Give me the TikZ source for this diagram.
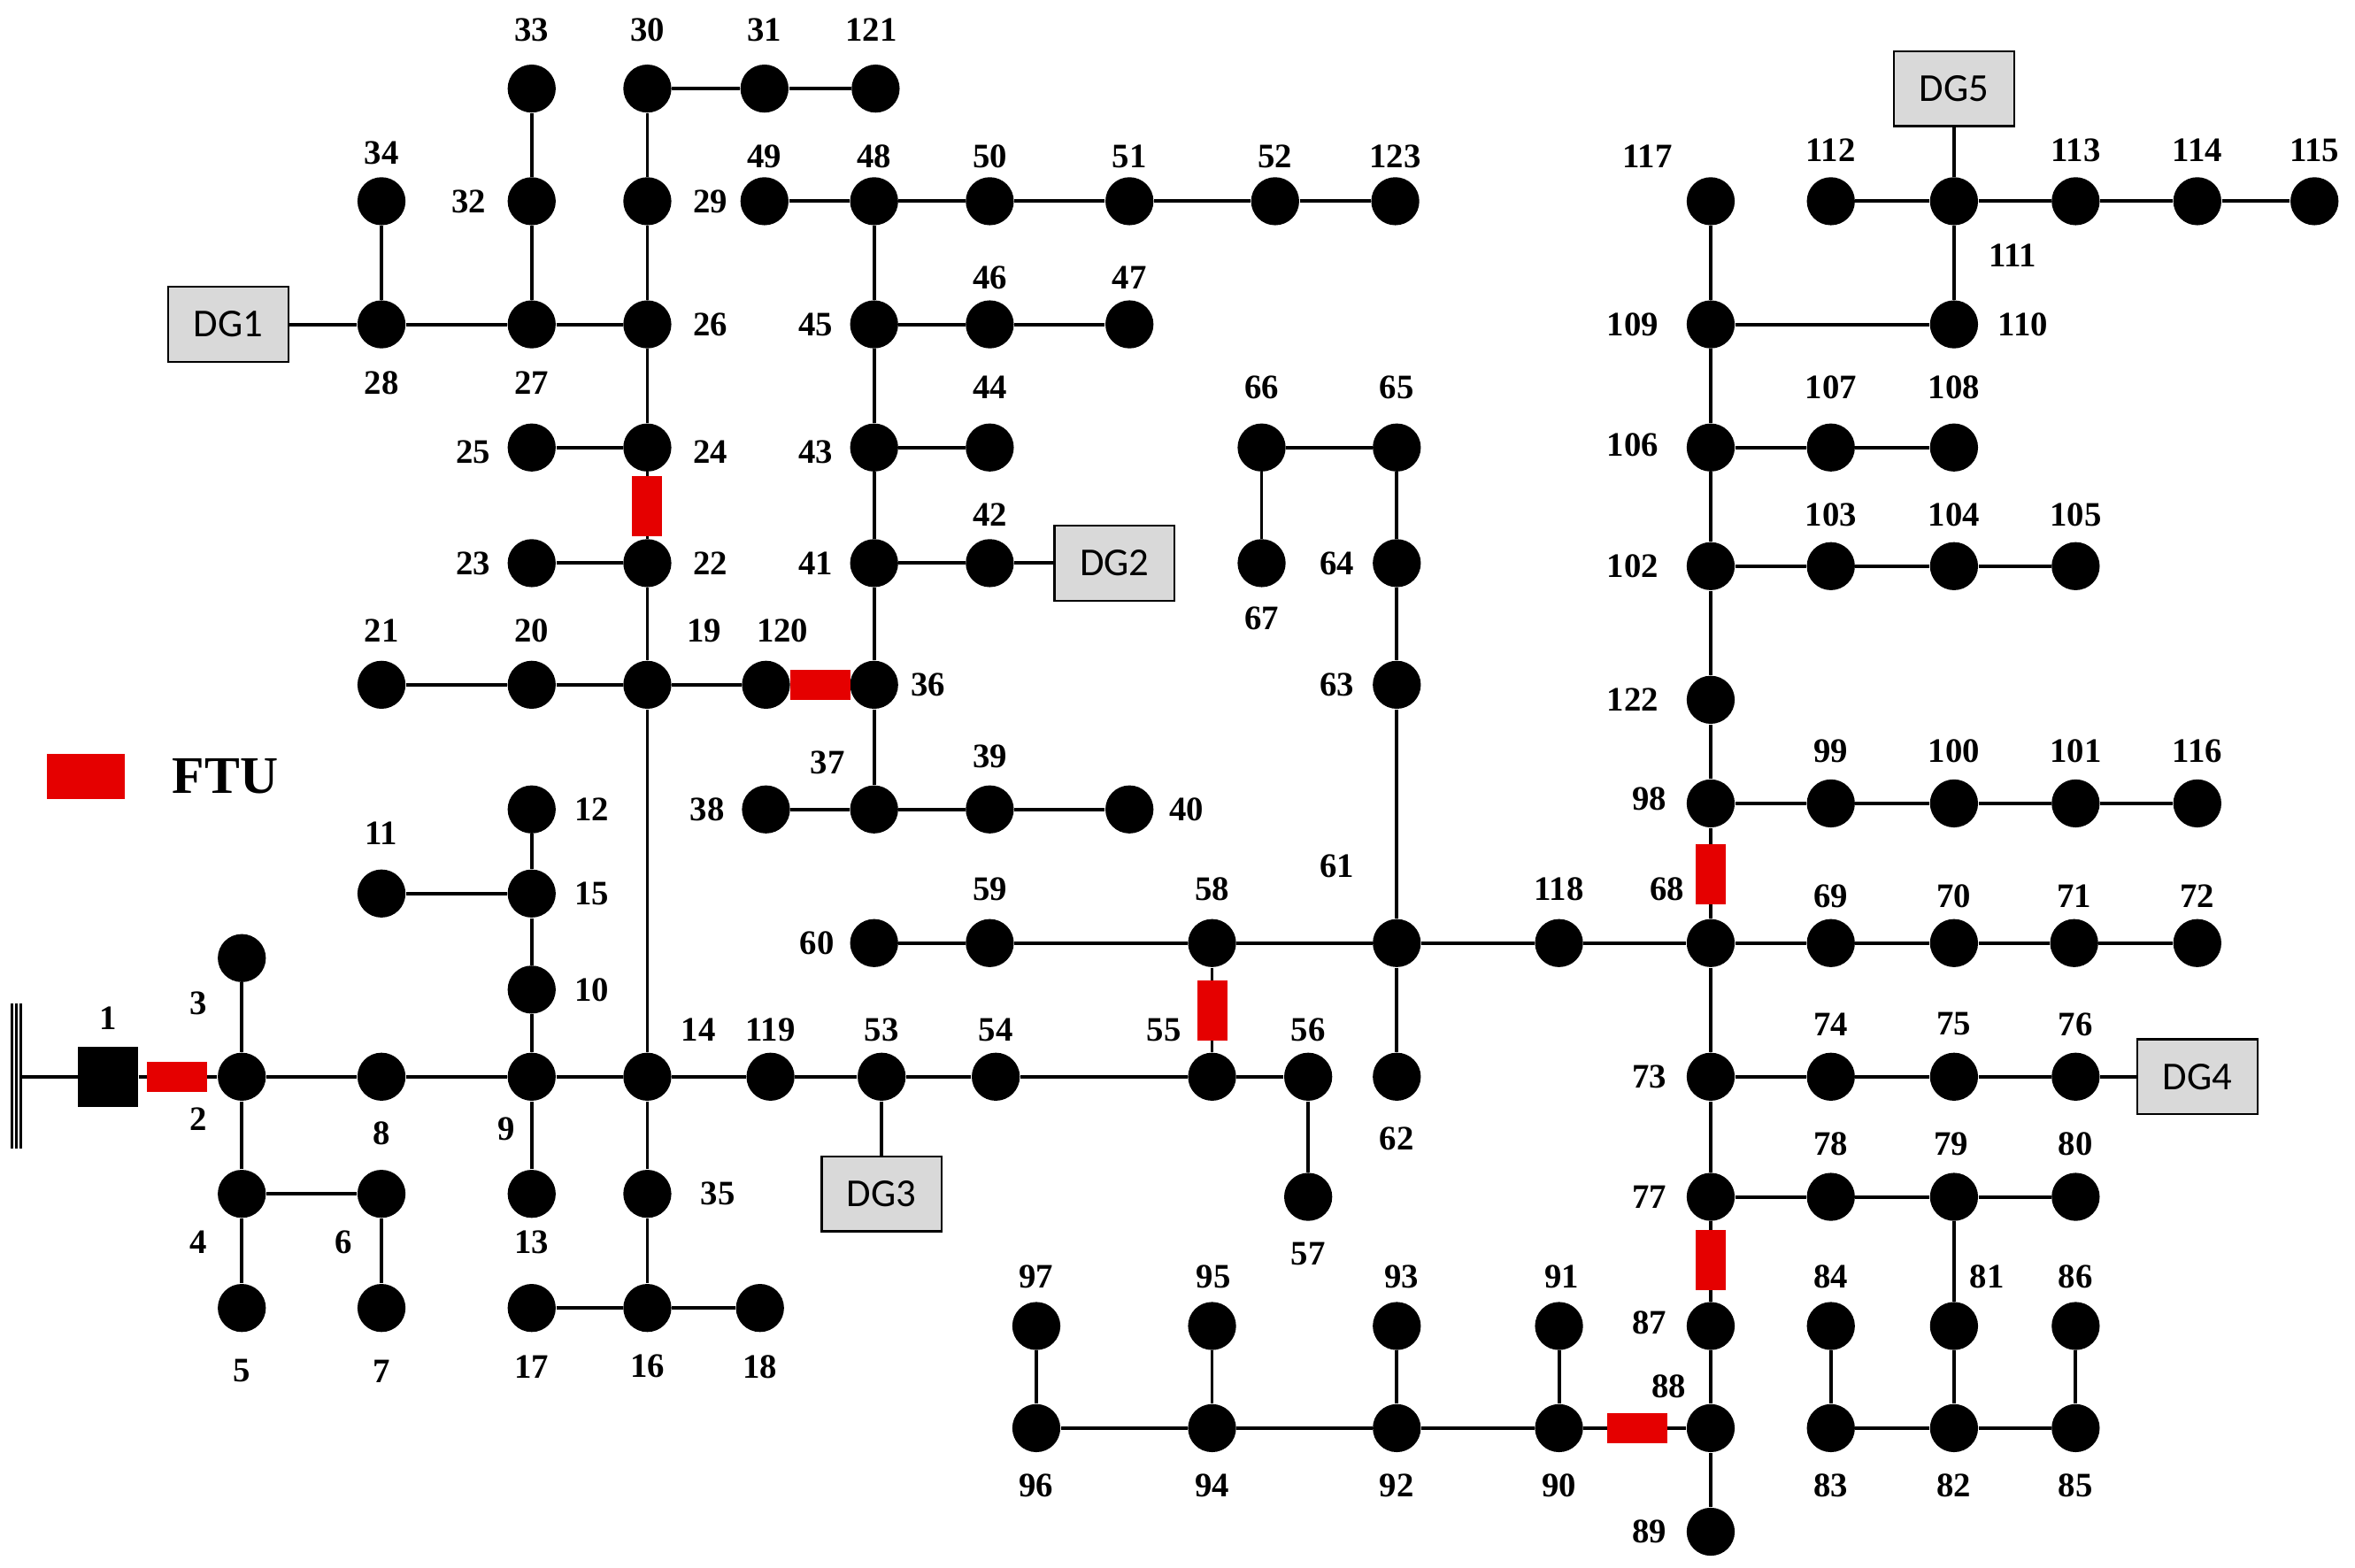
\documentclass[tikz,border=0pt]{standalone}
\usepackage{fontspec}
\setmainfont{Liberation Serif}
\newfontfamily\dgfont{Carlito}
\begin{document}
\begin{tikzpicture}[x=0.02cm,y=0.02cm,
 bus/.style={circle,fill=black,minimum size=0.64cm,inner sep=0pt},
 lab/.style={font=\fontsize{13}{13}\selectfont\bfseries},
 dg/.style={draw,fill=black!15,minimum width=1.6cm,minimum height=1cm,font=\dgfont\fontsize{15}{15}\selectfont,line width=0.8pt},
 ftuh/.style={fill=red!90!black,minimum width=0.8cm,minimum height=0.4cm,inner sep=0pt},
 ftuv/.style={fill=red!90!black,minimum width=0.4cm,minimum height=0.8cm,inner sep=0pt},
 ln/.style={line width=1.3pt}]
\useasboundingbox (0,0) rectangle (1568,-1044);
\foreach \n/\x/\y/\lx/\ly in {
2/161/717/132/745, 3/161/638/132/668, 4/161/795/132/827, 5/161/871/161/913, 6/254/795/229/827, 7/254/871/254/913,
8/254/717/254/755, 9/354/717/337/752, 10/354/659/394/659, 15/354/595/394/595, 12/354/539/394/539, 11/254/595/254/555,
13/354/795/354/827, 14/431/717/465/686, 35/431/795/478/795, 16/431/871/431/910, 17/354/871/354/910, 18/506/871/506/910,
119/513/717/513/686, 53/587/717/587/686, 54/663/717/663/686, 55/807/717/775/686, 56/871/717/871/686, 57/871/797/871/835,
19/431/456/469/420, 20/354/456/354/420, 21/254/456/254/420, 22/431/375/473/375, 23/354/375/315/375, 24/431/298/473/301,
25/354/298/315/301, 26/431/216/473/216, 27/354/216/354/255, 28/254/216/254/255, 34/254/134/254/102, 32/354/134/312/134,
33/354/59/354/20, 29/431/134/473/134, 30/431/59/431/20, 31/509/59/509/20, 121/583/59/580/20,
120/510/456/521/420, 36/582/456/618/456, 37/582/539/551/508, 38/510/539/471/539, 39/659/539/659/504, 40/752/539/790/539,
41/582/375/543/375, 42/659/375/659/343, 43/582/298/543/301, 44/659/298/659/258, 45/582/216/543/216, 46/659/216/659/185,
47/752/216/752/185, 48/582/134/582/104, 49/509/134/509/104, 50/659/134/659/104, 51/752/134/752/104, 52/849/134/849/104,
123/929/134/929/104, 60/582/628/544/628, 59/659/628/659/592, 58/807/628/807/592, 61/930/628/890/577, 62/930/717/930/758,
63/930/456/890/456, 64/930/375/890/375, 65/930/298/930/258, 66/840/298/840/258, 67/840/375/840/412, 118/1038/628/1038/592,
68/1139/628/1110/592, 69/1219/628/1219/597, 70/1301/628/1301/597, 71/1381/628/1381/597, 72/1463/628/1463/597,
73/1139/717/1098/717, 74/1219/717/1219/682, 75/1301/717/1301/682, 76/1382/717/1382/682,
77/1139/797/1098/797, 78/1219/797/1219/762, 79/1301/797/1299/762, 80/1382/797/1382/762, 81/1301/883/1323/850,
82/1301/951/1301/989, 83/1219/951/1219/989, 84/1219/883/1219/850, 85/1382/951/1382/989, 86/1382/883/1382/850,
87/1139/883/1098/881, 88/1139/951/1111/923, 89/1139/1020/1098/1020, 90/1038/951/1038/989, 91/1038/883/1040/850,
92/930/951/930/989, 93/930/883/933/850, 94/807/951/807/989, 95/807/883/808/850, 96/690/951/690/989, 97/690/883/690/850,
98/1139/535/1098/532, 99/1219/535/1219/500, 100/1301/535/1301/500, 101/1382/535/1382/500, 116/1463/535/1463/500,
122/1139/466/1087/466, 102/1139/377/1087/377, 103/1219/377/1219/343, 104/1301/377/1301/343, 105/1382/377/1382/343,
106/1139/298/1087/296, 107/1219/298/1219/258, 108/1301/298/1301/258, 109/1139/216/1087/216, 110/1301/216/1347/216,
111/1301/134/1340/170, 112/1219/134/1219/100, 113/1382/134/1382/100, 114/1463/134/1463/100, 115/1541/134/1541/100,
117/1139/134/1097/104}
{ \node[bus] (n\n) at (\x,-\y) {}; \node[lab] at (\lx,-\ly) {\n}; }
\node[fill=black,minimum size=0.8cm,inner sep=0pt] (n1) at (72,-717) {};
\node[lab] at (72,-678) {1};
\coordinate (src) at (14,-717);
\draw[line width=1pt] (8,-668) -- (8,-765) (11,-668) -- (11,-765) (14,-668) -- (14,-765);
\node[dg] (dg1) at (152,-216) {DG1};
\node[dg] (dg2) at (742,-375) {DG2};
\node[dg] (dg3) at (587,-795) {DG3};
\node[dg] (dg4) at (1463,-717) {DG4};
\node[dg] (dg5) at (1301,-59) {DG5};
\begin{scope}[on background layer/.try]
\draw[ln] (src) -- (n1) -- (n2) -- (n8) -- (n9) -- (n14) -- (n119) -- (n53) -- (n54) -- (n55) -- (n56);
\draw[ln] (n3) -- (n2) -- (n4) -- (n5) (n4) -- (n6) -- (n7);
\draw[ln] (n13) -- (n9) -- (n10) -- (n15) -- (n12) (n15) -- (n11);
\draw[ln] (n14) -- (n35) -- (n16) (n17) -- (n16) -- (n18);
\draw[ln] (n14) -- (n19) -- (n22) -- (n24) -- (n26) -- (n29) -- (n30) -- (n31) -- (n121);
\draw[ln] (n21) -- (n20) -- (n19) -- (n120) -- (n36);
\draw[ln] (n22) -- (n23) (n24) -- (n25) (dg1) -- (n28) -- (n27) -- (n26) (n27) -- (n32) -- (n33) (n28) -- (n34);
\draw[ln] (n49) -- (n48) -- (n50) -- (n51) -- (n52) -- (n123);
\draw[ln] (n48) -- (n45) -- (n43) -- (n41) -- (n36) -- (n37);
\draw[ln] (n45) -- (n46) -- (n47) (n43) -- (n44) (n41) -- (n42) -- (dg2) (n38) -- (n37) -- (n39) -- (n40);
\draw[ln] (n53) -- (dg3) (n55) -- (n58) (n56) -- (n57);
\draw[ln] (n60) -- (n59) -- (n58) -- (n61) -- (n118) -- (n68) -- (n69) -- (n70) -- (n71) -- (n72);
\draw[ln] (n62) -- (n61) -- (n63) -- (n64) -- (n65) -- (n66) -- (n67);
\draw[ln] (n89) -- (n88) -- (n87) -- (n77) -- (n73) -- (n68) -- (n98) -- (n122) -- (n102) -- (n106) -- (n109) -- (n117);
\draw[ln] (n73) -- (n74) -- (n75) -- (n76) -- (dg4) (n77) -- (n78) -- (n79) -- (n80) (n79) -- (n81) -- (n82);
\draw[ln] (n84) -- (n83) -- (n82) -- (n85) -- (n86);
\draw[ln] (n88) -- (n90) -- (n92) -- (n94) -- (n96) -- (n97) (n90) -- (n91) (n92) -- (n93) (n94) -- (n95);
\draw[ln] (n98) -- (n99) -- (n100) -- (n101) -- (n116) (n102) -- (n103) -- (n104) -- (n105) (n106) -- (n107) -- (n108);
\draw[ln] (n109) -- (n110) -- (n111) -- (dg5) (n112) -- (n111) -- (n113) -- (n114) -- (n115);
\end{scope}
\node[ftuh] (f1) at (118,-717) {};
\node[ftuv] (f2) at (431,-337) {};
\node[ftuh] (f3) at (546,-456) {};
\node[ftuv] (f4) at (807,-673) {};
\node[ftuv] (f5) at (1139,-582) {};
\node[ftuv] (f6) at (1139,-839) {};
\node[ftuh] (f7) at (1090,-951) {};
\node[minimum width=1.04cm,minimum height=0.6cm,fill=red!90!black,inner sep=0pt] (fl) at (57,-517) {};
\node[font=\fontsize{20}{20}\selectfont\bfseries] (ftut) at (150,-517) {FTU};
\end{tikzpicture}
\end{document}
